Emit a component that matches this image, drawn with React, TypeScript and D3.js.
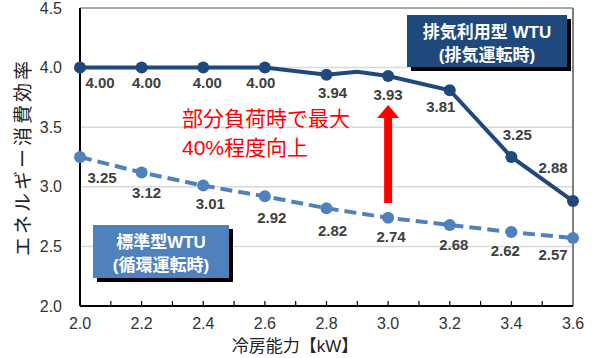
import React from "react";
import * as d3 from "d3";

const xValues = [2.0, 2.2, 2.4, 2.6, 2.8, 3.0, 3.2, 3.4, 3.6];
const exhaustX = [2.0, 2.2, 2.4, 2.6, 2.8, 2.9, 3.0, 3.2, 3.4, 3.6];
const exhaustY = [4.0, 4.0, 4.0, 4.0, 3.94, 3.965, 3.93, 3.81, 3.25, 2.88];
const exhaustMarked = [true, true, true, true, true, false, true, true, true, true];
const standardY = [3.25, 3.12, 3.01, 2.92, 2.82, 2.74, 2.68, 2.62, 2.57];
const yTicks = [2.0, 2.5, 3.0, 3.5, 4.0, 4.5];
const xTicks = [2.0, 2.2, 2.4, 2.6, 2.8, 3.0, 3.2, 3.4, 3.6];
const minorTicks = d3.range(21, 36).map((d) => d / 10);

// label layout offsets (px)
const exLabelDx = [20, 5, 4, -4, 6, 0, -9, 6, -20];
const exLabelDy = [15, 15, 15, 15, 18, 19, 16, -23, -34];
const stLabelDx = [22, 5, 7, 7, 6, 3, 4, -6, -20];
const stLabelDy = [20, 20, 18, 21, 22, 19, 20, 18, 16];

const W = 598, H = 358;
const L = 80, R = 573, T = 8, B = 306;
const FONT = '"Liberation Sans", Arial, "Noto Sans CJK JP", sans-serif';
const DARK = "#1F497D";
const LIGHT = "#4F81BD";

export default function App() {
  const x = d3.scaleLinear().domain([2.0, 3.6]).range([L, R]);
  const y = d3.scaleLinear().domain([2.0, 4.5]).range([B, T]);
  const line = d3.line<[number, number]>().x((d) => x(d[0])).y((d) => y(d[1]));
  const exPts: [number, number][] = exhaustX.map((v, i) => [v, exhaustY[i]]);
  const stPts: [number, number][] = xValues.map((v, i) => [v, standardY[i]]);
  const exMarks = exPts.filter((_, i) => exhaustMarked[i]);

  return (
    <svg width={W} height={H} style={{ position: "absolute", left: 0, top: 0, background: "#fff" }} fontFamily={FONT}>
      {/* gridlines */}
      {yTicks.filter((t) => t > 2.0 && t < 4.5).map((t) => (
        <line key={t} x1={L} x2={R} y1={y(t)} y2={y(t)} stroke="#d9d9d9" strokeWidth={1.5} />
      ))}
      {/* frame */}
      <line x1={L} x2={R} y1={T} y2={T} stroke="#555" strokeWidth={1} />
      <line x1={R} x2={R} y1={T} y2={B} stroke="#555" strokeWidth={1.5} />
      <line x1={L} x2={L} y1={T} y2={B} stroke="#000" strokeWidth={2} />
      <line x1={L} x2={R} y1={B} y2={B} stroke="#000" strokeWidth={2} />
      {minorTicks.map((t) => (
        <line key={t} x1={x(t)} x2={x(t)} y1={B} y2={B - 5} stroke="#000" strokeWidth={1.2} />
      ))}
      {/* y tick labels */}
      {yTicks.map((t) => (
        <text key={t} x={L - 18} y={y(t)} textAnchor="end" dominantBaseline="central" fontSize={16} fill="#333">
          {t.toFixed(1)}
        </text>
      ))}
      {/* x tick labels */}
      {xTicks.map((t) => (
        <text key={t} x={x(t)} y={323} textAnchor="middle" dominantBaseline="central" fontSize={16} fill="#333">
          {t.toFixed(1)}
        </text>
      ))}
      {/* axis titles */}
      <text x={295} y={346} textAnchor="middle" dominantBaseline="central" fontSize={17} fill="#222">
        冷房能力【kW】
      </text>
      <text transform={`translate(23,157) rotate(-90)`} textAnchor="middle" dominantBaseline="central" fontSize={19} fill="#222" letterSpacing={3}>
        エネルギー消費効率
      </text>

      {/* standard series */}
      <path d={line(stPts) || ""} fill="none" stroke={LIGHT} strokeWidth={4} strokeDasharray="12 6" />
      {stPts.map((p, i) => (
        <circle key={i} cx={x(p[0])} cy={y(p[1])} r={6} fill={LIGHT} />
      ))}
      {/* exhaust series */}
      <path d={line(exPts) || ""} fill="none" stroke={DARK} strokeWidth={4} />
      {exMarks.map((p, i) => (
        <circle key={i} cx={x(p[0])} cy={y(p[1])} r={6} fill={DARK} />
      ))}

      {/* value labels */}
      {exMarks.map((p, i) => (
        <text key={i} x={x(p[0]) + exLabelDx[i]} y={y(p[1]) + exLabelDy[i]} textAnchor="middle" dominantBaseline="central" fontSize={15} fontWeight="bold" fill="#404040">
          {p[1].toFixed(2)}
        </text>
      ))}
      {stPts.map((p, i) => (
        <text key={i} x={x(p[0]) + stLabelDx[i]} y={y(p[1]) + stLabelDy[i]} textAnchor="middle" dominantBaseline="central" fontSize={15} fontWeight="bold" fill="#404040">
          {p[1].toFixed(2)}
        </text>
      ))}

      {/* red annotation */}
      <text x={182} y={118} dominantBaseline="central" fontSize={21} fill="#ff0000">部分負荷時で最大</text>
      <text x={182} y={147} dominantBaseline="central" fontSize={21} fill="#ff0000">40%程度向上</text>
      <rect x={x(3.0) - 4} y={116} width={8} height={87} fill="#ff0000" />
      <path d={`M${x(3.0)},105 L${x(3.0) + 11},118 L${x(3.0) - 11},118 Z`} fill="#ff0000" />

      {/* legend boxes */}
      <rect x={411} y={19} width={160} height={52} fill="#000" />
      <rect x={407} y={15} width={160} height={52} fill={DARK} />
      <text x={487} y={32} textAnchor="middle" dominantBaseline="central" fontSize={17} fontWeight="bold" fill="#fff">排気利用型 WTU</text>
      <text x={487} y={55} textAnchor="middle" dominantBaseline="central" fontSize={17} fontWeight="bold" fill="#fff">(排気運転時)</text>

      <rect x={97} y={229} width={136} height={53} fill="#000" />
      <rect x={93} y={225} width={136} height={53} fill={LIGHT} />
      <text x={161} y={242} textAnchor="middle" dominantBaseline="central" fontSize={17} fontWeight="bold" fill="#fff">標準型WTU</text>
      <text x={161} y={265} textAnchor="middle" dominantBaseline="central" fontSize={17} fontWeight="bold" fill="#fff">(循環運転時)</text>
    </svg>
  );
}
